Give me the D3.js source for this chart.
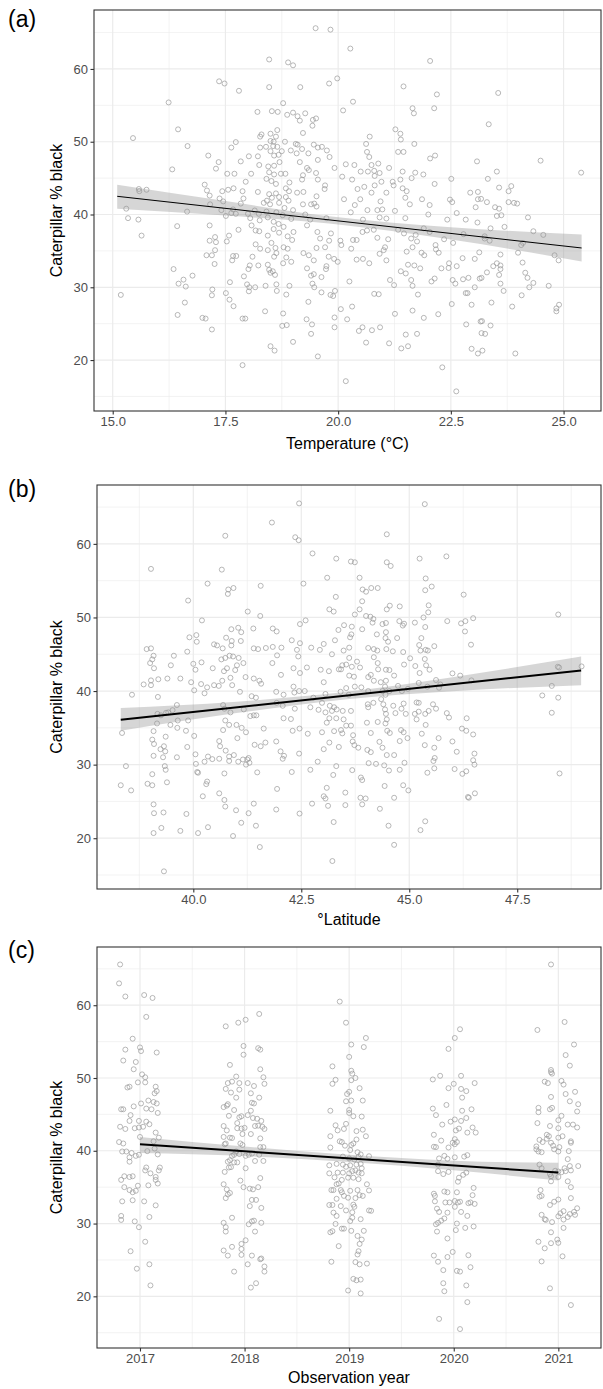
<!DOCTYPE html>
<html>
<head>
<meta charset="utf-8">
<script src="https://cdn.jsdelivr.net/npm/d3@7"></script>
<style>
  body { margin: 0; background: #fff; }
  text { font-family: "Liberation Sans", Arial, sans-serif; }
</style>
</head>
<body>
<div id="chart"></div>
<script>
// Panel (a): temperature (°C) vs % black
const tempPoints = [
  [19.5,65.6],[19.83,65.4],[18.47,61.3],[18.89,60.9],[19.0,60.5],[17.36,58.3],[17.48,58.0],[17.8,57.0],[18.47,57.5],[19.16,57.5],
  [19.8,58.0],[19.98,58.7],[16.24,55.4],[18.78,55.3],[20.11,54.3],[18.21,54.1],[18.53,54.2],[18.66,54.1],[18.87,53.7],[19.0,54.0],
  [19.1,53.5],[19.15,52.9],[19.27,53.9],[19.44,53.0],[19.51,53.2],[19.43,52.2],[16.45,51.7],[15.45,50.5],[18.65,51.6],[18.5,51.1],
  [19.22,51.2],[18.27,50.7],[18.3,51.0],[18.62,50.7],[18.5,50.1],[18.57,50.0],[18.82,50.0],[17.73,49.95],[17.63,49.2],[16.66,49.4],
  [19.06,49.7],[19.1,49.6],[19.46,49.6],[19.55,49.2],[19.64,49.3],[19.75,48.8],[18.27,49.2],[18.4,49.3],[18.56,49.4],[18.65,49.3],
  [18.75,48.7],[18.95,48.8],[19.08,48.4],[19.2,49.0],[19.34,48.4],[19.55,47.5],[19.81,47.9],[17.12,48.1],[18.02,48.0],[18.22,48.0],
  [18.5,48.7],[18.58,48.1],[18.68,48.2],[17.35,47.2],[17.84,47.3],[18.7,47.2],[19.15,47.2],[16.32,46.2],[17.29,46.3],[17.54,45.6],
  [17.7,45.6],[18.07,45.6],[18.25,46.8],[18.45,46.6],[18.58,46.7],[18.47,45.8],[18.58,45.5],[18.73,45.6],[18.83,45.6],[19.31,46.4],
  [19.35,46.1],[19.22,45.4],[19.51,45.7],[19.92,46.4],[20.09,45.2],[20.17,46.9],[17.95,44.5],[18.41,44.9],[18.52,44.6],[18.62,44.2],
  [18.92,44.4],[19.2,44.8],[19.55,44.8],[17.04,44.1],[19.71,44.0],[19.7,43.5],[15.59,43.2],[15.75,43.4],[15.58,43.5],[17.09,43.3],
  [17.43,43.2],[17.56,43.4],[17.68,43.6],[17.88,43.2],[18.22,43.1],[18.47,42.8],[18.62,42.9],[18.84,43.6],[18.91,43.2],[19.09,43.0],
  [19.23,43.1],[19.52,42.5],[17.15,42.6],[17.37,42.2],[17.9,42.2],[18.42,41.9],[18.53,42.3],[18.69,42.4],[18.84,42.4],[18.9,41.9],
  [19.4,41.4],[19.47,41.5],[20.13,42.1],[17.16,41.4],[17.45,41.8],[17.84,41.5],[18.35,41.6],[18.49,41.4],[18.69,41.6],[18.81,40.9],
  [19.0,40.6],[19.22,41.4],[19.52,41.1],[15.3,40.8],[16.65,40.4],[17.41,40.6],[17.63,40.2],[17.67,40.7],[17.73,40.1],[18.0,40.1],
  [18.15,40.55],[18.24,40.1],[18.41,40.4],[18.63,40.3],[18.77,39.9],[18.96,39.4],[19.27,40.0],[19.38,39.3],[19.74,39.5],[15.34,39.5],
  [15.57,39.3],[17.51,39.8],[18.05,39.5],[18.26,39.2],[18.44,39.6],[18.57,39.0],[18.68,38.7],[17.15,38.5],[16.43,38.4],[17.79,37.9],
  [18.08,38.5],[18.17,37.8],[18.25,37.7],[18.57,38.0],[18.79,38.3],[18.69,37.5],[19.01,37.6],[19.31,38.5],[19.54,37.6],[19.84,37.4],
  [15.64,37.1],[18.44,37.1],[18.88,37.0],[18.98,36.5],[19.6,36.7],[19.8,36.4],[20.05,36.4],[20.07,35.8],[17.15,36.4],[17.27,36.9],
  [17.29,36.2],[17.58,37.1],[17.53,36.3],[18.52,36.1],[18.17,35.9],[18.27,35.3],[18.44,35.1],[18.61,35.4],[18.79,35.5],[18.88,35.3],
  [19.52,35.4],[19.71,35.5],[17.27,35.1],[17.2,34.4],[17.08,34.4],[17.67,34.3],[17.74,34.3],[17.65,33.7],[18.1,34.2],[18.58,34.2],
  [18.63,34.7],[18.85,34.1],[18.96,33.5],[19.23,34.7],[19.35,34.4],[19.46,33.7],[19.79,34.2],[19.91,33.9],[19.99,33.5],[17.26,33.2],
  [18.04,33.0],[18.23,33.0],[18.44,33.1],[18.78,33.3],[19.74,32.9],[16.35,32.5],[18.01,32.5],[18.47,32.4],[18.55,32.2],[19.31,32.6],
  [19.73,32.5],[16.77,31.6],[17.91,31.5],[18.6,31.7],[18.5,32.0],[19.46,31.8],[19.4,31.6],[19.63,31.4],[16.57,31.05],[16.46,30.5],
  [16.62,30.1],[17.6,30.7],[17.98,30.4],[18.03,30.0],[18.16,30.0],[18.39,30.2],[18.63,30.4],[18.92,30.2],[19.43,30.5],[19.47,30.0],
  [17.21,29.7],[18.02,29.45],[18.64,29.5],[17.51,29.2],[19.63,29.3],[15.18,28.95],[17.2,28.9],[18.85,29.0],[19.83,28.95],[19.89,28.8],
  [19.93,29.5],[16.6,27.9],[17.59,28.3],[17.68,27.4],[19.34,28.0],[20.06,27.0],[18.38,26.7],[18.78,26.4],[16.44,26.2],[16.99,25.8],
  [17.06,25.7],[17.88,25.7],[17.94,25.7],[19.3,25.6],[19.92,25.85],[17.2,24.2],[18.76,24.7],[18.86,24.8],[19.42,24.9],[19.92,24.5],
  [19.4,23.6],[19.0,22.5],[18.5,21.9],[18.59,21.3],[19.55,20.5],[17.88,19.3],[20.17,17.1],[20.25,30.8],[20.2,25.6],
  [20.27,62.8],[22.04,61.1],[21.45,57.6],[22.19,56.5],[23.55,56.7],[20.33,55.5],[21.65,54.6],[21.68,53.9],[22.13,54.6],[23.34,52.4],
  [21.27,51.7],[21.38,51.1],[21.39,50.3],[21.69,49.7],[20.7,50.7],[20.62,49.7],[20.64,48.6],[20.69,47.9],[21.33,48.6],[21.45,48.6],
  [22.04,47.7],[22.15,48.1],[23.08,47.3],[24.49,47.4],[25.39,45.75],[20.36,46.8],[20.74,46.8],[20.89,47.0],[21.13,46.4],[20.5,45.9],
  [20.66,45.9],[20.8,46.0],[20.92,45.7],[21.43,45.9],[21.71,45.75],[21.89,45.5],[23.52,45.9],[20.81,45.3],[20.31,44.8],[21.38,44.8],
  [21.63,45.0],[22.51,44.9],[23.32,44.9],[22.14,44.2],[20.96,44.5],[21.21,44.5],[20.43,43.5],[20.58,43.8],[20.81,44.0],[21.23,44.0],
  [21.43,43.6],[23.57,43.7],[23.84,43.9],[21.52,43.2],[21.07,43.0],[20.74,43.0],[22.93,43.0],[23.1,43.1],[23.78,43.2],[20.49,42.1],
  [20.94,41.8],[21.49,42.3],[21.86,42.1],[22.48,42.05],[22.53,41.7],[23.1,42.1],[23.17,42.15],[23.3,41.7],[23.78,41.7],[23.9,41.6],
  [23.97,41.5],[20.37,41.3],[21.59,41.4],[22.03,41.3],[23.05,41.0],[23.48,41.0],[23.57,40.8],[20.28,40.3],[20.65,40.6],[20.87,40.6],
  [20.98,40.7],[21.26,40.5],[22.0,40.0],[22.63,40.2],[23.52,39.8],[23.62,39.9],[24.21,39.6],[20.92,39.6],[21.07,39.45],[21.49,39.5],
  [22.42,39.3],[22.83,39.3],[23.09,38.9],[20.55,39.3],[20.79,37.9],[21.33,37.9],[21.46,37.4],[21.9,38.1],[22.03,37.6],[22.78,37.3],
  [23.38,38.1],[23.69,38.3],[24.33,37.7],[24.55,37.2],[20.54,37.6],[20.64,37.8],[20.87,36.8],[21.11,36.6],[21.62,36.7],[21.72,37.2],
  [21.75,36.3],[22.35,36.6],[22.55,36.1],[23.25,37.0],[23.25,36.7],[23.36,36.4],[20.33,36.5],[20.41,36.5],[20.29,35.3],[21.04,35.5],
  [21.01,35.1],[20.92,34.6],[21.52,34.9],[21.65,35.5],[21.85,34.75],[21.91,34.4],[22.16,35.8],[22.17,35.2],[22.23,34.75],[23.13,34.8],
  [23.6,34.5],[23.99,34.75],[24.06,35.8],[24.1,36.1],[24.8,34.4],[24.89,33.7],[20.41,33.8],[20.55,33.9],[20.69,33.3],[21.07,33.7],
  [22.46,33.3],[22.76,34.0],[23.03,33.9],[21.55,33.1],[21.69,33.0],[21.82,32.6],[22.29,32.6],[22.45,32.65],[22.63,32.9],[23.44,32.9],
  [23.52,33.3],[23.6,33.0],[23.6,32.5],[24.09,33.4],[21.39,32.2],[21.5,31.9],[23.3,32.05],[23.57,31.7],[24.15,32.0],[21.15,31.0],
  [21.24,30.3],[21.62,31.0],[21.65,30.2],[21.77,29.0],[22.07,30.8],[22.14,31.2],[22.54,31.0],[22.6,30.5],[22.77,31.1],[22.89,31.3],
  [23.03,30.0],[23.14,31.2],[23.18,31.3],[23.6,30.5],[23.67,29.5],[24.2,31.3],[24.24,30.0],[24.33,30.6],[24.67,30.2],[20.8,29.1],
  [20.9,29.05],[22.83,29.2],[22.87,29.2],[24.07,28.9],[22.52,27.7],[22.96,27.6],[23.4,27.9],[23.86,27.35],[24.9,27.6],[24.84,27.1],
  [24.84,26.7],[20.31,27.35],[21.26,26.35],[21.65,26.8],[22.22,26.3],[21.9,25.8],[20.54,24.5],[20.46,24.0],[20.75,24.1],[20.93,24.5],
  [21.75,23.6],[21.5,23.5],[22.84,24.9],[23.16,25.3],[23.19,25.35],[23.38,24.75],[23.18,23.7],[23.26,23.6],[20.62,22.4],[21.13,22.3],
  [21.4,21.6],[21.55,21.9],[22.96,21.55],[23.2,21.3],[23.1,20.9],[23.93,20.9],[22.31,19.0],[22.62,15.7]
];

// Panel (b): latitude vs % black
const latPoints = [
  [42.45,65.5],[45.36,65.4],[41.82,62.9],[40.74,61.1],[42.36,60.9],[42.44,60.5],[44.48,61.3],[42.76,58.7],[43.31,58.0],[43.65,57.6],
  [43.74,57.5],[44.48,57.5],[44.57,57.0],[45.24,58.0],[45.86,58.3],[39.02,56.6],[40.66,56.5],[43.1,55.4],[43.85,55.4],[45.38,55.3],
  [40.33,54.6],[41.56,54.3],[42.55,54.6],[40.81,53.8],[40.93,54.0],[40.8,53.2],[43.92,53.8],[44.12,54.0],[44.27,54.0],[44.0,53.5],
  [45.52,54.2],[45.37,53.7],[46.26,53.1],[39.88,52.3],[43.3,52.8],[43.91,52.2],[43.15,51.1],[43.25,50.8],[43.85,51.1],[43.74,50.4],
  [44.55,51.6],[44.48,51.1],[44.78,51.5],[45.45,51.65],[45.44,50.7],[48.45,50.4],[41.26,50.8],[41.55,50.2],[40.2,49.6],[42.6,49.6],
  [42.47,49.1],[44.0,50.2],[44.1,50.1],[44.17,49.8],[44.15,49.3],[44.38,49.1],[44.46,49.25],[44.77,49.5],[44.85,48.9],[44.88,49.15],
  [45.13,49.3],[45.33,50.0],[45.88,49.5],[46.2,49.2],[46.3,49.5],[46.29,48.1],[46.48,49.9],[40.88,48.4],[41.04,48.6],[41.11,48.0],
  [41.39,48.5],[41.84,48.5],[41.93,48.1],[43.36,48.3],[43.49,48.95],[43.67,48.75],[43.66,47.7],[43.63,47.3],[43.91,48.4],[44.25,47.7],
  [44.46,48.0],[44.45,47.2],[44.51,46.7],[44.72,47.2],[45.37,48.7],[45.28,47.2],[46.43,46.3],[39.91,47.3],[40.07,47.6],[40.08,46.7],
  [40.48,46.35],[40.55,46.2],[40.76,47.25],[40.89,46.8],[40.68,45.8],[40.88,46.2],[41.1,46.8],[42.28,46.9],[42.47,46.5],[42.4,45.6],
  [42.73,45.9],[43.02,46.4],[42.93,45.6],[43.28,46.9],[43.61,45.9],[43.48,45.5],[41.4,45.8],[41.5,45.7],[41.68,45.85],[41.84,46.0],
  [42.04,45.9],[38.92,45.7],[39.02,45.8],[39.86,45.35],[44.05,45.85],[44.18,45.7],[44.26,45.5],[44.47,45.7],[44.62,45.4],[44.86,45.3],
  [45.58,46.1],[45.23,46.25],[45.26,45.5],[45.38,45.6],[45.43,45.5],[39.08,44.8],[39.55,44.8],[39.05,44.3],[39.0,43.8],[39.48,43.5],
  [39.09,43.1],[40.0,43.7],[40.19,43.9],[40.05,42.9],[40.45,43.1],[40.65,44.3],[40.74,44.5],[40.84,44.8],[40.92,44.7],[41.05,44.5],
  [40.71,42.7],[40.78,43.1],[41.01,43.5],[41.16,43.8],[40.97,42.85],[41.83,43.8],[41.94,44.85],[42.03,42.2],[42.32,43.1],[42.43,44.7],
  [42.47,42.45],[42.63,43.2],[42.95,42.9],[43.14,42.7],[43.21,45.0],[43.37,42.95],[43.42,42.95],[43.45,43.5],[43.54,43.6],[43.61,44.5],
  [43.67,43.3],[43.79,44.0],[43.86,43.2],[43.61,42.1],[43.72,41.95],[44.05,41.9],[44.11,42.2],[44.18,44.6],[44.27,43.8],[44.28,42.95],
  [44.46,42.9],[44.54,42.85],[44.65,42.1],[44.88,43.6],[45.02,44.45],[45.14,43.4],[45.24,42.45],[45.36,44.35],[45.39,43.5],[45.47,42.9],
  [46.0,42.4],[46.18,42.1],[48.44,43.3],[48.99,43.35],[48.47,43.2],[38.85,40.9],[39.02,41.45],[39.19,41.6],[39.4,41.7],[39.02,40.8],
  [39.18,39.2],[38.58,39.5],[39.7,41.7],[39.95,41.2],[40.02,40.1],[40.18,40.95],[40.26,39.7],[40.32,40.5],[40.48,40.8],[40.59,40.7],
  [40.67,41.4],[40.86,41.8],[40.9,40.8],[41.08,39.9],[41.21,41.9],[41.4,41.7],[41.53,41.4],[41.57,41.0],[41.92,39.9],[42.09,39.5],
  [42.32,40.6],[42.34,39.8],[42.45,40.0],[42.58,40.0],[42.78,39.1],[43.02,41.2],[43.06,39.6],[43.41,39.9],[43.54,40.4],[43.6,39.5],
  [43.74,40.6],[43.89,40.5],[44.05,40.0],[44.18,41.4],[44.34,41.2],[44.46,41.4],[44.44,40.6],[44.38,40.0],[44.54,40.0],[44.45,39.5],
  [44.74,40.7],[44.83,40.0],[44.97,40.3],[45.22,41.1],[45.42,40.6],[45.62,41.5],[45.69,40.45],[45.72,40.9],[46.44,41.45],[48.08,39.4],
  [48.3,40.7],[48.45,39.1],[48.3,37.05],[39.62,38.1],[39.52,37.4],[39.42,37.1],[39.17,36.9],[39.25,36.7],[39.37,37.05],[39.64,36.0],
  [39.88,36.0],[39.47,35.4],[39.63,35.0],[39.16,35.6],[39.83,34.6],[40.02,33.9],[38.35,34.3],[38.44,29.8],[38.32,27.2],[38.56,26.5],
  [40.69,38.1],[40.72,37.6],[40.86,37.1],[40.74,36.0],[40.83,35.4],[40.69,34.7],[41.0,35.4],[41.12,35.0],[41.22,34.4],[41.02,33.6],
  [41.17,37.5],[41.32,36.6],[41.4,36.7],[41.46,36.7],[41.35,39.3],[41.45,39.1],[41.63,34.9],[41.93,38.4],[42.07,38.0],[42.09,36.3],
  [42.26,36.2],[42.3,34.6],[42.35,37.6],[42.46,34.9],[42.65,34.2],[42.71,37.8],[42.9,37.45],[42.98,38.4],[43.06,37.1],[43.09,35.7],
  [43.15,36.3],[43.16,38.0],[43.26,37.8],[43.31,36.3],[43.21,37.3],[43.32,37.5],[43.46,37.3],[43.48,36.15],[43.65,37.3],[43.54,35.3],
  [43.65,35.3],[42.98,34.4],[43.26,34.55],[43.42,34.7],[43.45,34.25],[43.7,34.0],[44.04,38.2],[44.05,37.8],[44.17,38.4],[44.35,38.9],
  [44.4,38.2],[44.44,37.5],[44.46,36.9],[44.48,36.15],[44.45,35.6],[44.49,34.6],[44.55,34.3],[44.63,38.0],[44.68,37.0],[44.82,37.6],
  [44.87,38.3],[44.92,36.9],[44.81,34.7],[44.87,34.4],[44.96,33.6],[44.78,33.2],[45.13,36.9],[45.17,38.45],[45.22,38.4],[45.22,37.2],
  [45.17,36.15],[45.37,36.9],[45.45,37.3],[45.55,38.2],[45.62,37.6],[45.38,35.4],[45.29,34.2],[45.68,33.6],[45.87,37.0],[45.92,36.4],
  [46.22,34.9],[46.33,36.3],[46.32,34.6],[46.48,34.1],[44.02,35.7],[44.27,35.8],[44.11,34.3],[39.08,34.55],[39.05,33.4],[39.09,32.8],
  [39.36,33.8],[39.32,32.5],[39.24,32.1],[39.35,31.8],[39.62,31.0],[39.86,32.4],[39.08,31.2],[39.3,31.0],[39.34,29.8],[39.36,29.3],
  [39.05,28.7],[38.94,27.4],[39.05,27.2],[39.39,27.6],[40.05,31.4],[40.06,30.1],[40.09,29.0],[40.11,28.9],[40.26,30.4],[40.34,31.1],
  [40.44,30.75],[40.32,27.7],[40.3,27.35],[40.22,25.7],[40.6,33.2],[40.6,30.8],[40.62,32.5],[40.72,28.8],[40.75,31.9],[40.83,31.1],
  [40.83,30.5],[41.04,30.4],[41.15,30.7],[41.22,30.0],[41.25,30.7],[41.28,30.9],[41.3,30.25],[41.48,28.95],[41.42,32.7],[41.56,32.5],
  [41.67,33.0],[40.6,26.1],[40.72,25.2],[40.74,24.3],[40.94,31.3],[40.99,23.8],[41.11,22.1],[41.28,23.4],[41.4,24.7],[41.45,21.7],
  [41.54,18.8],[41.94,26.7],[41.92,23.9],[42.02,31.8],[42.1,31.2],[42.07,30.8],[41.92,33.15],[42.28,29.0],[42.45,31.5],[42.46,23.35],
  [42.75,24.7],[42.71,29.3],[42.88,30.4],[43.02,32.1],[43.02,25.7],[43.06,25.4],[43.09,26.85],[43.12,24.4],[43.24,28.6],[43.25,22.2],
  [43.22,16.9],[43.31,29.8],[43.37,32.4],[43.15,33.0],[43.52,26.2],[43.52,24.5],[43.69,33.15],[43.73,32.65],[43.68,29.25],[43.82,32.3],
  [43.88,28.25],[43.91,27.9],[43.87,25.5],[43.99,25.4],[43.91,24.6],[44.03,32.0],[44.06,30.2],[44.11,31.7],[44.23,30.1],[44.31,33.1],
  [44.38,32.3],[44.48,31.3],[44.42,29.9],[44.53,29.2],[44.65,31.3],[44.43,27.1],[44.65,25.5],[44.32,24.0],[44.52,21.7],[44.65,19.1],
  [44.78,29.3],[44.89,30.25],[44.86,27.2],[44.98,26.5],[45.36,32.65],[45.58,32.3],[45.59,30.9],[45.56,30.5],[45.58,29.5],[45.42,28.9],
  [45.37,22.3],[45.26,21.1],[46.0,33.15],[46.1,31.75],[46.05,29.4],[46.23,28.75],[46.32,29.1],[46.36,25.6],[46.38,25.5],[46.52,26.1],
  [46.51,31.5],[46.48,30.6],[46.51,30.0],[48.48,28.8],[39.08,24.6],[39.09,23.4],[39.31,23.5],[39.08,20.7],[39.26,21.4],[39.7,21.0],
  [39.84,23.3],[40.11,20.7],[40.34,21.5],[40.92,20.3],[39.32,15.5]
];

// Panel (c): observation year (jittered) vs % black
const yearPoints = [
  [2016.81,65.6],[2016.8,63.0],[2016.86,61.2],[2017.04,61.4],[2017.12,61.0],[2017.06,58.4],[2016.93,55.4],[2016.86,53.9],[2017.0,54.2],[2017.01,53.7],
  [2017.16,53.5],[2016.84,52.4],[2016.96,52.2],[2016.94,51.2],[2017.02,50.5],[2017.05,50.1],[2016.98,49.4],[2017.05,49.4],[2017.15,48.8],[2016.88,48.7],
  [2016.9,48.8],[2017.16,48.2],[2017.14,47.9],[2017.01,46.5],[2017.08,46.9],[2017.13,46.7],[2017.16,46.5],[2016.94,46.1],[2017.06,45.8],[2017.11,45.7],
  [2016.82,45.7],[2016.84,45.7],[2017.17,45.2],[2016.91,44.9],[2016.99,44.1],[2017.06,44.0],[2017.09,43.65],[2016.9,44.1],[2016.81,43.3],[2016.86,43.0],
  [2016.95,43.1],[2016.99,43.2],[2017.03,43.3],[2017.15,42.5],[2017.0,41.9],[2016.8,41.2],[2016.84,41.0],[2017.13,41.3],[2017.18,41.8],[2017.14,40.3],
  [2017.07,39.95],[2016.83,39.9],[2016.87,39.9],[2016.92,39.7],[2016.9,39.1],[2016.96,39.3],[2016.99,39.45],[2017.17,39.5],[2016.9,38.5],[2017.06,37.7],
  [2017.19,37.7],[2017.05,37.3],[2017.1,36.9],[2017.18,37.3],[2017.15,36.4],[2016.85,36.5],[2016.9,36.4],[2016.93,36.5],[2016.82,36.0],[2017.15,36.0],
  [2017.17,35.5],[2017.08,35.25],[2016.98,35.2],[2016.85,35.0],[2016.9,34.6],[2016.93,34.3],[2016.96,34.5],[2016.83,33.05],[2016.93,33.2],[2017.04,33.05],
  [2017.15,32.5],[2016.82,31.05],[2016.82,30.5],[2016.95,30.3],[2017.09,30.9],[2016.99,29.5],[2017.05,27.5],[2016.91,26.2],[2016.97,23.8],[2017.09,24.4],
  [2017.1,21.5],
  [2017.82,57.1],[2017.94,57.6],[2018.01,58.0],[2018.14,58.8],[2017.99,54.4],[2017.99,53.2],[2018.13,54.1],[2018.15,53.9],[2017.86,51.8],[2018.15,51.2],
  [2018.18,50.1],[2017.92,50.2],[2017.88,49.5],[2017.84,49.3],[2018.03,49.3],[2017.95,49.3],[2018.09,48.9],[2018.19,49.2],[2017.82,48.5],[2017.87,48.0],
  [2017.95,48.4],[2018.06,47.9],[2017.92,47.3],[2018.14,47.3],[2018.07,46.6],[2018.09,46.5],[2017.83,46.2],[2017.8,46.0],[2017.84,46.4],[2017.9,45.6],
  [2018.06,45.5],[2017.85,44.8],[2017.95,44.6],[2017.97,44.75],[2018.03,44.9],[2018.08,44.5],[2018.12,44.4],[2018.16,44.1],[2017.93,43.8],[2017.8,43.4],
  [2017.93,43.1],[2017.97,43.05],[2018.0,43.15],[2018.1,43.4],[2018.13,43.45],[2018.17,43.3],[2018.19,43.0],[2017.83,42.8],[2017.98,42.3],[2018.06,42.3],
  [2018.15,41.7],[2017.8,41.9],[2017.86,41.8],[2017.88,41.75],[2017.96,41.0],[2017.98,40.8],[2017.82,41.0],[2017.81,40.9],[2018.15,40.5],[2018.18,40.5],
  [2017.92,39.9],[2017.9,39.45],[2017.95,39.55],[2018.01,39.3],[2018.04,39.45],[2018.07,39.6],[2018.14,39.45],[2017.88,39.3],[2017.84,38.5],[2017.86,38.7],
  [2017.93,38.4],[2017.9,38.4],[2018.1,38.6],[2018.18,38.6],[2017.85,37.7],[2017.87,37.75],[2017.81,37.1],[2018.01,37.6],[2018.15,36.25],[2017.8,35.4],
  [2017.96,35.9],[2017.99,35.0],[2018.05,34.8],[2018.08,34.7],[2018.13,35.0],[2017.83,34.7],[2017.84,34.0],[2017.86,34.2],[2017.82,33.5],[2018.07,33.25],
  [2018.11,33.25],[2018.05,32.4],[2018.16,32.15],[2017.8,30.1],[2017.82,29.5],[2017.82,28.9],[2017.88,30.8],[2018.04,29.9],[2018.07,30.3],[2018.09,30.4],
  [2018.16,30.1],[2018.1,28.9],[2017.8,26.3],[2017.84,25.6],[2017.88,26.8],[2017.97,27.2],[2018.01,27.7],[2017.97,26.5],[2017.97,25.7],[2018.07,25.6],
  [2018.15,25.1],[2018.16,25.2],[2018.03,24.4],[2018.19,24.1],[2018.19,23.4],[2017.9,23.4],[2018.11,21.8],[2018.06,21.2],
  [2018.91,60.5],[2018.97,57.6],[2019.02,54.6],[2019.16,55.5],[2019.14,54.25],[2019.0,52.9],[2018.84,51.6],[2019.02,51.0],[2019.03,50.6],[2019.06,50.0],
  [2019.02,49.7],[2018.87,49.75],[2018.84,49.2],[2019.1,48.6],[2019.0,48.1],[2018.98,47.8],[2019.02,46.9],[2018.97,46.8],[2019.13,46.9],[2018.82,45.5],
  [2019.0,45.6],[2019.0,45.2],[2019.04,44.75],[2019.12,44.7],[2018.87,43.5],[2018.97,43.7],[2018.95,43.0],[2018.89,42.8],[2019.07,42.7],[2019.13,42.9],
  [2018.82,42.0],[2019.16,42.0],[2019.07,41.55],[2018.91,41.3],[2018.93,41.2],[2018.96,40.7],[2019.02,40.8],[2019.04,41.0],[2018.82,40.45],[2019.01,40.1],
  [2019.08,39.8],[2019.11,39.5],[2019.19,39.25],[2018.94,39.2],[2019.09,39.15],[2019.0,38.95],[2019.05,38.8],[2018.88,38.2],[2018.81,38.0],[2018.94,38.1],
  [2018.97,37.8],[2019.01,38.0],[2019.07,38.1],[2019.11,38.2],[2019.12,37.6],[2018.81,36.9],[2018.89,37.0],[2018.94,37.0],[2019.0,36.9],[2019.03,37.2],
  [2019.06,37.3],[2019.09,37.0],[2019.12,36.9],[2018.86,36.35],[2018.88,35.4],[2018.9,35.5],[2018.93,36.0],[2018.99,36.3],[2019.04,36.3],[2019.09,36.1],
  [2019.17,35.4],[2018.83,34.6],[2018.85,34.6],[2018.92,34.6],[2018.93,34.3],[2018.95,33.8],[2019.01,34.5],[2019.08,34.6],[2019.19,34.55],[2019.1,33.9],
  [2019.13,33.8],[2018.88,33.4],[2018.99,33.55],[2019.06,33.5],[2018.81,32.55],[2018.84,32.55],[2018.92,32.4],[2019.04,32.6],[2019.05,32.3],[2018.97,31.8],
  [2018.85,31.5],[2019.03,31.55],[2019.19,31.8],[2019.21,31.75],[2018.88,31.05],[2019.03,30.8],[2019.01,30.35],[2019.11,30.6],[2018.87,29.95],[2018.93,29.3],
  [2018.95,29.3],[2018.82,28.8],[2018.84,28.95],[2019.02,29.0],[2019.14,29.0],[2019.08,28.3],[2019.12,27.8],[2019.1,27.2],[2018.9,26.9],[2019.09,26.2],
  [2019.08,25.75],[2018.83,24.75],[2019.06,24.7],[2019.1,24.4],[2019.17,24.5],[2019.04,22.4],[2019.07,22.2],[2019.11,22.3],[2018.99,20.8],[2019.11,20.4],
  [2020.06,56.7],[2020.01,55.5],[2019.95,54.0],[2019.8,49.8],[2019.87,50.3],[2020.07,50.3],[2020.2,49.3],[2019.95,48.6],[2020.0,49.2],[2020.07,48.5],
  [2020.12,48.2],[2020.08,47.3],[2019.93,46.3],[2019.8,45.8],[2019.83,44.9],[2020.08,45.5],[2020.17,45.7],[2019.89,43.6],[2019.97,44.0],[2020.01,44.3],
  [2020.07,44.1],[2020.12,44.5],[2020.02,42.8],[2020.05,43.05],[2020.18,43.2],[2020.21,42.5],[2020.13,42.5],[2019.81,42.2],[2020.01,41.6],[2020.03,41.2],
  [2020.01,40.9],[2019.99,41.1],[2019.81,40.55],[2019.83,40.5],[2019.95,40.45],[2019.88,41.4],[2020.1,39.2],[2020.13,39.4],[2019.91,39.3],[2019.94,38.9],
  [2020.01,39.1],[2019.86,38.95],[2019.85,38.1],[2019.85,37.2],[2019.9,36.8],[2019.95,37.1],[2020.09,36.7],[2020.12,37.0],[2020.05,36.3],[2020.04,35.75],
  [2019.81,34.1],[2019.82,33.8],[2019.91,34.4],[2019.94,34.3],[2020.03,34.3],[2020.19,34.9],[2020.18,33.9],[2019.82,33.05],[2019.92,32.9],[2019.96,32.9],
  [2020.01,33.1],[2020.04,32.9],[2020.06,33.0],[2020.14,32.8],[2020.16,32.9],[2020.2,32.7],[2019.84,32.05],[2019.94,31.5],[2019.86,31.6],[2020.01,32.3],
  [2020.07,31.6],[2020.13,31.05],[2019.91,30.7],[2019.85,30.1],[2019.83,29.9],[2019.88,30.4],[2020.03,30.0],[2020.11,29.4],[2020.19,29.6],[2020.02,29.1],
  [2019.84,28.9],[2019.94,27.95],[2019.99,26.1],[2019.81,25.6],[2019.85,24.75],[2019.94,25.4],[2020.14,25.65],[2019.9,23.6],[2020.03,23.5],[2020.06,23.4],
  [2020.16,24.0],[2019.9,21.8],[2019.91,20.7],[2020.12,21.5],[2020.13,19.2],[2019.86,16.9],[2020.06,15.5],
  [2020.93,65.6],[2020.8,56.6],[2021.06,57.7],[2021.15,54.6],[2021.07,53.15],[2021.11,51.7],[2020.93,51.1],[2020.93,50.8],[2020.94,50.6],[2020.87,49.5],
  [2020.9,49.3],[2021.03,49.6],[2021.05,49.1],[2020.93,47.4],[2021.07,47.8],[2021.16,48.1],[2021.11,46.8],[2021.19,46.4],[2020.81,45.9],[2020.92,45.7],
  [2020.94,45.9],[2021.18,45.4],[2020.81,45.3],[2021.03,44.8],[2020.8,43.8],[2020.92,43.4],[2021.0,43.1],[2021.09,43.6],[2021.14,43.6],[2021.18,43.2],
  [2021.0,44.2],[2020.89,42.2],[2020.91,42.0],[2021.0,41.8],[2021.04,42.0],[2020.82,41.5],[2020.85,41.2],[2020.89,41.65],[2020.93,41.1],[2020.95,40.7],
  [2021.01,40.5],[2021.12,41.3],[2021.12,41.1],[2020.79,40.6],[2020.79,40.2],[2020.81,39.9],[2020.84,39.8],[2020.96,40.2],[2021.0,39.9],[2021.1,39.95],
  [2021.09,38.85],[2020.82,38.1],[2020.84,37.6],[2021.06,37.6],[2021.11,37.9],[2021.19,37.9],[2020.92,36.8],[2020.93,36.5],[2020.97,37.25],[2021.0,37.15],
  [2021.03,37.05],[2021.07,37.2],[2021.12,37.3],[2021.0,36.4],[2020.93,35.8],[2021.09,35.8],[2021.12,35.0],[2020.83,34.6],[2020.84,33.8],[2020.82,33.7],
  [2021.0,33.3],[2021.12,33.5],[2020.92,32.55],[2020.96,33.0],[2021.02,31.4],[2021.05,31.7],[2021.09,30.9],[2021.11,31.3],[2021.15,31.6],[2021.18,32.1],
  [2021.16,31.2],[2020.84,31.2],[2020.88,30.5],[2020.87,30.6],[2020.94,30.2],[2021.0,31.0],[2021.05,30.55],[2021.05,29.4],[2020.93,28.8],[2020.81,27.5],
  [2020.87,26.6],[2020.93,27.3],[2020.99,27.8],[2021.0,27.35],[2021.04,25.5],[2020.84,24.8],[2020.92,21.1],[2021.12,18.8]
];

// Fitted lines (lm) and their 95% bands: [x, y] and [x, lower, upper]
const tempFit = [[15.1,42.5],[25.4,35.4]];
const tempBand = [[15.1,40.8,44.1],[17.5,39.85,41.85],[19.8,38.76,39.76],[22.5,36.55,38.25],[25.4,33.55,37.25]];
const latFit = [[38.32,36.1],[48.98,42.8]];
const latBand = [[38.32,34.6,37.7],[41.0,37.0,38.55],[43.5,38.86,39.86],[46.0,39.98,41.88],[48.98,40.8,44.7]];
const yearFit = [[2017,40.9],[2021,37.0]];
const yearBand = [[2017,39.7,41.9],[2018,39.28,40.58],[2019,38.45,39.45],[2020,37.33,38.63],[2021,35.9,38.35]];

// Ticks
const yTicks = [20,30,40,50,60];
const yMinor = [15,25,35,45,55,65];
const tempTicks = [15,17.5,20,22.5,25];
const tempMinor = [16.25,18.75,21.25,23.75];
const latTicks = [40,42.5,45,47.5];
const latMinor = [38.75,41.25,43.75,46.25,48.75];
const yearTicks = [2017,2018,2019,2020,2021];
const yearMinor = [2017.5,2018.5,2019.5,2020.5];

const width = 603;
const height = 1389;

const svg = d3.select("#chart").append("svg")
  .attr("width", width)
  .attr("height", height);

const panels = [
  { tag: "(a)", tagY: 27, left: 94, right: 601, top: 10, bottom: 411, titleY: 449,
    xDomain: [14.585, 25.83], yDomain: [13.0, 68.1],
    xTicks: tempTicks, xMinor: tempMinor, fmt: d3.format(".1f"),
    xTitle: "Temperature (°C)", points: tempPoints, fit: tempFit, band: tempBand, lw: 1 },
  { tag: "(b)", tagY: 497, left: 97, right: 601, top: 485, bottom: 889, titleY: 925,
    xDomain: [37.77, 49.44], yDomain: [13.1, 68.0],
    xTicks: latTicks, xMinor: latMinor, fmt: d3.format(".1f"),
    xTitle: "°Latitude", points: latPoints, fit: latFit, band: latBand, lw: 2 },
  { tag: "(c)", tagY: 958, left: 97, right: 601, top: 947, bottom: 1348, titleY: 1383,
    xDomain: [2016.589, 2021.408], yDomain: [12.9, 68.0],
    xTicks: yearTicks, xMinor: yearMinor, fmt: d3.format("d"),
    xTitle: "Observation year", points: yearPoints, fit: yearFit, band: yearBand, lw: 2 }
];

panels.forEach((p) => {
  const x = d3.scaleLinear().domain(p.xDomain).range([p.left, p.right]);
  const y = d3.scaleLinear().domain(p.yDomain).range([p.bottom, p.top]);
  const g = svg.append("g");

  // panel tag
  g.append("text")
    .attr("x", 8)
    .attr("y", p.tagY)
    .attr("font-size", 23)
    .attr("fill", "#000")
    .text(p.tag);

  // grid
  g.selectAll(".vminor").data(p.xMinor).enter().append("line")
    .attr("x1", (d) => x(d)).attr("x2", (d) => x(d))
    .attr("y1", p.top).attr("y2", p.bottom)
    .attr("stroke", "#ebebeb").attr("stroke-width", 0.6);
  g.selectAll(".hminor").data(yMinor).enter().append("line")
    .attr("x1", p.left).attr("x2", p.right)
    .attr("y1", (d) => y(d)).attr("y2", (d) => y(d))
    .attr("stroke", "#ebebeb").attr("stroke-width", 0.6);
  g.selectAll(".vmajor").data(p.xTicks).enter().append("line")
    .attr("x1", (d) => x(d)).attr("x2", (d) => x(d))
    .attr("y1", p.top).attr("y2", p.bottom)
    .attr("stroke", "#ebebeb").attr("stroke-width", 1.2);
  g.selectAll(".hmajor").data(yTicks).enter().append("line")
    .attr("x1", p.left).attr("x2", p.right)
    .attr("y1", (d) => y(d)).attr("y2", (d) => y(d))
    .attr("stroke", "#ebebeb").attr("stroke-width", 1.2);

  // points
  g.selectAll(".pt").data(p.points).enter().append("circle")
    .attr("cx", (d) => x(d[0]))
    .attr("cy", (d) => y(d[1]))
    .attr("r", 2.5)
    .attr("fill", "none")
    .attr("stroke", "#999999")
    .attr("stroke-width", 0.7);

  // confidence band and fit
  const area = d3.area()
    .x((d) => x(d[0]))
    .y0((d) => y(d[1]))
    .y1((d) => y(d[2]))
    .curve(d3.curveMonotoneX);
  g.append("path")
    .attr("d", area(p.band))
    .attr("fill", "#999999")
    .attr("fill-opacity", 0.4);
  g.append("path")
    .attr("d", d3.line().x((d) => x(d[0])).y((d) => y(d[1]))(p.fit))
    .attr("fill", "none")
    .attr("stroke", "#000")
    .attr("stroke-width", p.lw);

  // border
  g.append("rect")
    .attr("x", p.left).attr("y", p.top)
    .attr("width", p.right - p.left).attr("height", p.bottom - p.top)
    .attr("fill", "none").attr("stroke", "#333").attr("stroke-width", 1.1);

  // axes
  const xAxis = d3.axisBottom(x).tickValues(p.xTicks).tickFormat(p.fmt).tickSize(3.5).tickPadding(2.5);
  const yAxis = d3.axisLeft(y).tickValues(yTicks).tickSize(3.5).tickPadding(2.5);
  const gx = g.append("g").attr("transform", `translate(0,${p.bottom})`).call(xAxis);
  const gy = g.append("g").attr("transform", `translate(${p.left},0)`).call(yAxis);
  [gx, gy].forEach((a) => {
    a.select(".domain").remove();
    a.selectAll(".tick line").attr("stroke", "#333").attr("stroke-width", 1.1);
    a.selectAll(".tick text")
      .attr("fill", "#4d4d4d")
      .attr("font-size", 13)
      .attr("font-family", "Liberation Sans, Arial, sans-serif");
  });

  // axis titles
  g.append("text")
    .attr("x", (p.left + p.right) / 2)
    .attr("y", p.titleY)
    .attr("text-anchor", "middle")
    .attr("font-size", 16)
    .attr("fill", "#000")
    .text(p.xTitle);
  g.append("text")
    .attr("transform", `translate(62,${(p.top + p.bottom) / 2}) rotate(-90)`)
    .attr("text-anchor", "middle")
    .attr("font-size", 16)
    .attr("fill", "#000")
    .text("Caterpillar % black");
});
</script>
</body>
</html>
